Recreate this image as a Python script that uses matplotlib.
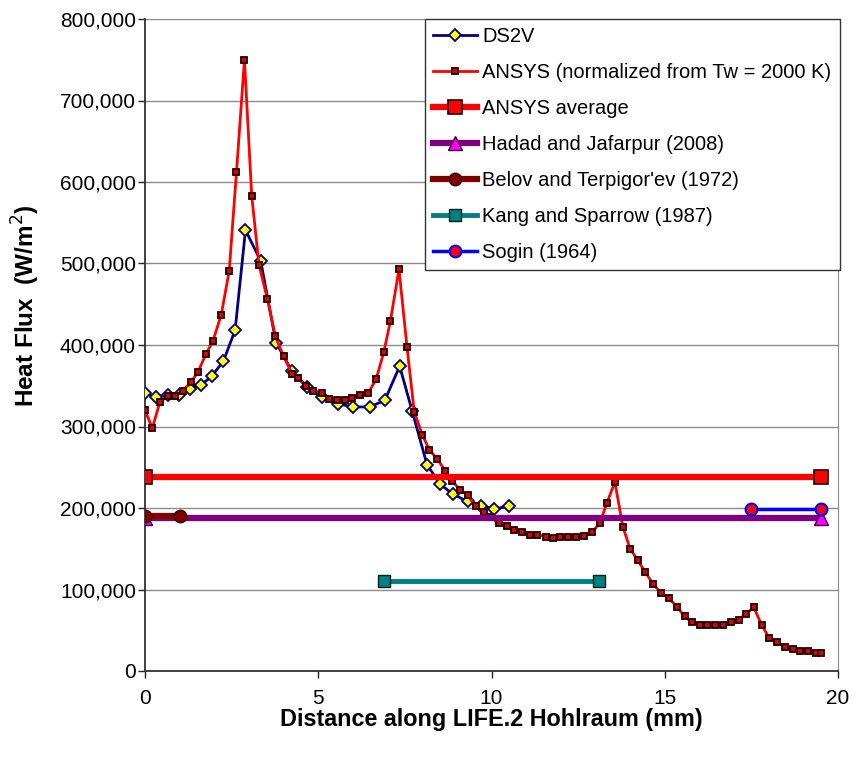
import matplotlib
matplotlib.use("Agg")
import matplotlib.pyplot as plt
from matplotlib.ticker import FuncFormatter, MultipleLocator

plt.rcParams['font.family'] = ['Liberation Sans', 'DejaVu Sans']

# ---- data ----
ds2v_x = [0, 0.32, 0.65, 0.99, 1.3, 1.62, 1.93, 2.26, 2.6, 2.9, 3.34, 3.78, 4.24, 4.67,
          5.1, 5.56, 6.0, 6.48, 6.92, 7.35, 7.71, 8.14, 8.52, 8.89, 9.31, 9.7, 10.08, 10.5]
ds2v_y = [341, 336, 339, 339, 346, 351, 362, 380, 418, 541, 503, 403, 368, 348,
          336, 328, 324, 324, 332, 374, 319, 253, 229, 217, 208, 203, 199, 202]

ansys_x = [0, 0.21, 0.43, 0.65, 0.86, 1.09, 1.32, 1.53, 1.76, 1.96, 2.2, 2.43, 2.64, 2.87,
           3.08, 3.29, 3.53, 3.76, 4.0, 4.24, 4.42, 4.65, 4.86, 5.1, 5.32, 5.55, 5.78, 5.98,
           6.21, 6.44, 6.67, 6.89, 7.08, 7.33, 7.56, 7.77, 8.0, 8.21, 8.44, 8.67, 8.87, 9.1,
           9.31, 9.54, 9.78, 9.97, 10.21, 10.45, 10.66, 10.88, 11.1, 11.32, 11.56, 11.78,
           11.99, 12.21, 12.44, 12.67, 12.89, 13.12, 13.33, 13.56, 13.79, 14.0, 14.22, 14.44,
           14.66, 14.89, 15.12, 15.35, 15.57, 15.78, 16.01, 16.23, 16.46, 16.69, 16.9, 17.13,
           17.34, 17.57, 17.8, 18.01, 18.24, 18.46, 18.69, 18.91, 19.13, 19.36, 19.5]
ansys_y = [320, 298, 330, 337, 338, 344, 354, 367, 389, 405, 437, 491, 612, 750,
           583, 498, 457, 411, 386, 365, 360, 350, 344, 341, 334, 333, 333, 335,
           339, 341, 358, 391, 429, 493, 398, 318, 290, 271, 260, 245, 233, 222,
           216, 202, 195, 189, 181, 178, 173, 170, 167, 167, 165, 163,
           164, 165, 165, 166, 170, 181, 206, 232, 177, 150, 136, 121,
           107, 96, 89, 79, 67, 60, 57, 57, 57, 57, 60, 63,
           70, 78, 56, 41, 35, 30, 27, 25, 24, 22, 22]

avg_x = [0, 19.5]
avg_y = [238, 238]
hadad_x = [0, 19.5]
hadad_y = [188, 188]
belov_x = [0, 1.0]
belov_y = [190, 190]
kang_x = [6.9, 13.1]
kang_y = [110, 110]
sogin_x = [17.5, 19.5]
sogin_y = [199, 199]

labels = ["DS2V", "ANSYS (normalized from Tw = 2000 K)", "ANSYS average",
          "Hadad and Jafarpur (2008)", "Belov and Terpigor'ev (1972)",
          "Kang and Sparrow (1987)", "Sogin (1964)"]

k = lambda v: [a * 1000 for a in v]

fig = plt.figure(figsize=(8.56, 7.57), dpi=100)
ax = fig.add_axes([145/856, 86/757, (838-145)/856, (671-19)/757])

ax.plot(ds2v_x, k(ds2v_y), color='#000080', lw=2, marker='D', ms=6,
        mfc='#FFFF00', mec='#000080', mew=1.3, label=labels[0], zorder=3)
ax.plot(ansys_x, k(ansys_y), color='#FF0000', lw=2, marker='s', ms=4.5,
        mfc='#DD0000', mec='#1a0000', mew=1.3, label=labels[1], zorder=4)
ax.plot(avg_x, k(avg_y), color='#FF0000', lw=4.5, marker='s', ms=9.5,
        mfc='#FF0000', mec='#200000', mew=1.2, label=labels[2], zorder=5)
ax.plot(hadad_x, k(hadad_y), color='#800080', lw=4.5, marker='^', ms=9.5,
        mfc='#FF00FF', mec='#400040', mew=1.0, label=labels[3], zorder=5)
ax.plot(belov_x, k(belov_y), color='#800000', lw=4.5, marker='o', ms=9,
        mfc='#800000', mec='#300000', mew=1.0, label=labels[4], zorder=6)
ax.plot(kang_x, k(kang_y), color='#008080', lw=3.5, marker='s', ms=9,
        mfc='#008080', mec='#002020', mew=1.0, label=labels[5], zorder=6)
ax.plot(sogin_x, k(sogin_y), color='#0000FF', lw=2.5, marker='o', ms=8.5,
        mfc='#FF0000', mec='#0000FF', mew=1.5, label=labels[6], zorder=6)

ax.set_xlim(0, 20)
ax.set_ylim(0, 800000)
ax.xaxis.set_major_locator(MultipleLocator(5))
ax.yaxis.set_major_locator(MultipleLocator(100000))
ax.yaxis.set_major_formatter(FuncFormatter(lambda v, p: f"{int(v):,}"))
ax.tick_params(labelsize=15, direction='out', length=5, width=1, colors='#222222',
               labelcolor='black')
ax.tick_params(axis='y', pad=1.5)
ax.tick_params(axis='x', pad=8)
ax.grid(axis='y', color='#8c8c8c', lw=1)
ax.set_axisbelow(True)
ax.spines['top'].set_visible(False)
ax.spines['right'].set_color('#8c8c8c')
ax.spines['left'].set_color('#333333')
ax.spines['bottom'].set_color('#333333')
ax.spines['left'].set_linewidth(1.3)
ax.spines['bottom'].set_linewidth(1.3)

ax.set_xlabel("Distance along LIFE.2 Hohlraum (mm)", fontsize=16.8, fontweight='bold', labelpad=0)
ax.set_ylabel("Heat Flux  (W/m$^{2}$)", fontsize=17.5, fontweight='bold')
ax.yaxis.set_label_coords(-0.148, 0.56)

leg = ax.legend(loc='upper right', bbox_to_anchor=(1.003, 1.0), borderaxespad=0,
                fontsize=14.5, frameon=True, fancybox=False, framealpha=1,
                edgecolor='#333333', handlelength=2.2, handletextpad=0.25,
                labelspacing=0.84, borderpad=0.42, numpoints=1)
leg.get_frame().set_linewidth(1.0)
leg.set_zorder(10)

fig.savefig("out.png", dpi=100)
